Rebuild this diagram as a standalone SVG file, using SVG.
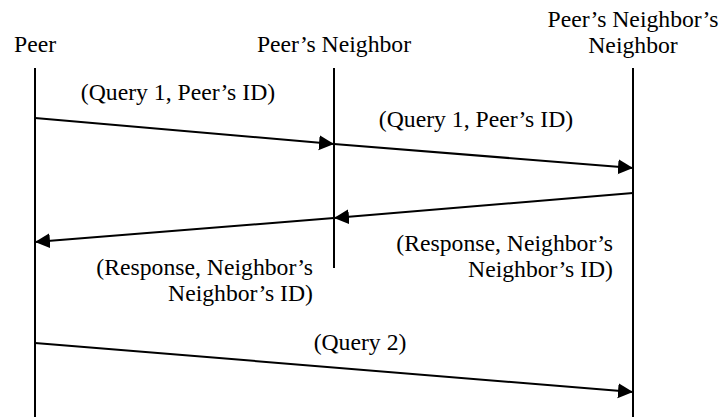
<svg xmlns="http://www.w3.org/2000/svg" width="722" height="417" viewBox="0 0 722 417">
<style>
text{font-family:'Liberation Serif','Times New Roman',Times,'DejaVu Serif',serif;font-size:23.7px;fill:#000}
.c{text-anchor:middle}
.r{text-anchor:end}
.life{stroke:#000;stroke-width:2;fill:none}
.msg{stroke:#000;stroke-width:2;fill:none;marker-end:url(#ah)}
</style>
<defs>
<marker id="ah" markerUnits="userSpaceOnUse" markerWidth="16" markerHeight="16" viewBox="0 0 16 16" refX="15" refY="7.5" orient="auto">
<path d="M0,0 L15,7.5 L0,15 z" fill="#000"/>
</marker>
</defs>
<rect width="722" height="417" fill="#fff"/>
<g id="peer" font-family="Liberation Serif, serif">
<text class="c" x="35" y="52">Peer</text>
<line class="life" x1="35" y1="68" x2="35" y2="417"/>
</g>
<g id="neighbor">
<text class="c" x="334" y="52">Peer’s Neighbor</text>
<line class="life" x1="334" y1="68" x2="334" y2="268"/>
</g>
<g id="neighbors-neighbor">
<text class="c" x="633" y="27">Peer’s Neighbor’s</text>
<text class="c" x="633" y="53">Neighbor</text>
<line class="life" x1="633" y1="68" x2="633" y2="417"/>
</g>
<g id="connectors">
<line class="msg" x1="35" y1="118" x2="334" y2="144"/>
<line class="msg" x1="334" y1="144" x2="633" y2="168"/>
<line class="msg" x1="633" y1="193" x2="334" y2="218"/>
<line class="msg" x1="334" y1="218" x2="35" y2="242"/>
<line class="msg" x1="35" y1="343" x2="633" y2="392"/>
<text class="c" x="178" y="100">(Query 1, Peer’s ID)</text>
<text class="c" x="476" y="127">(Query 1, Peer’s ID)</text>
<text class="r" x="613" y="251">(Response, Neighbor’s</text>
<text class="r" x="613" y="277">Neighbor’s ID)</text>
<text class="r" x="313" y="275">(Response, Neighbor’s</text>
<text class="r" x="313" y="301">Neighbor’s ID)</text>
<text class="c" x="360" y="350">(Query 2)</text>
</g>
</svg>
